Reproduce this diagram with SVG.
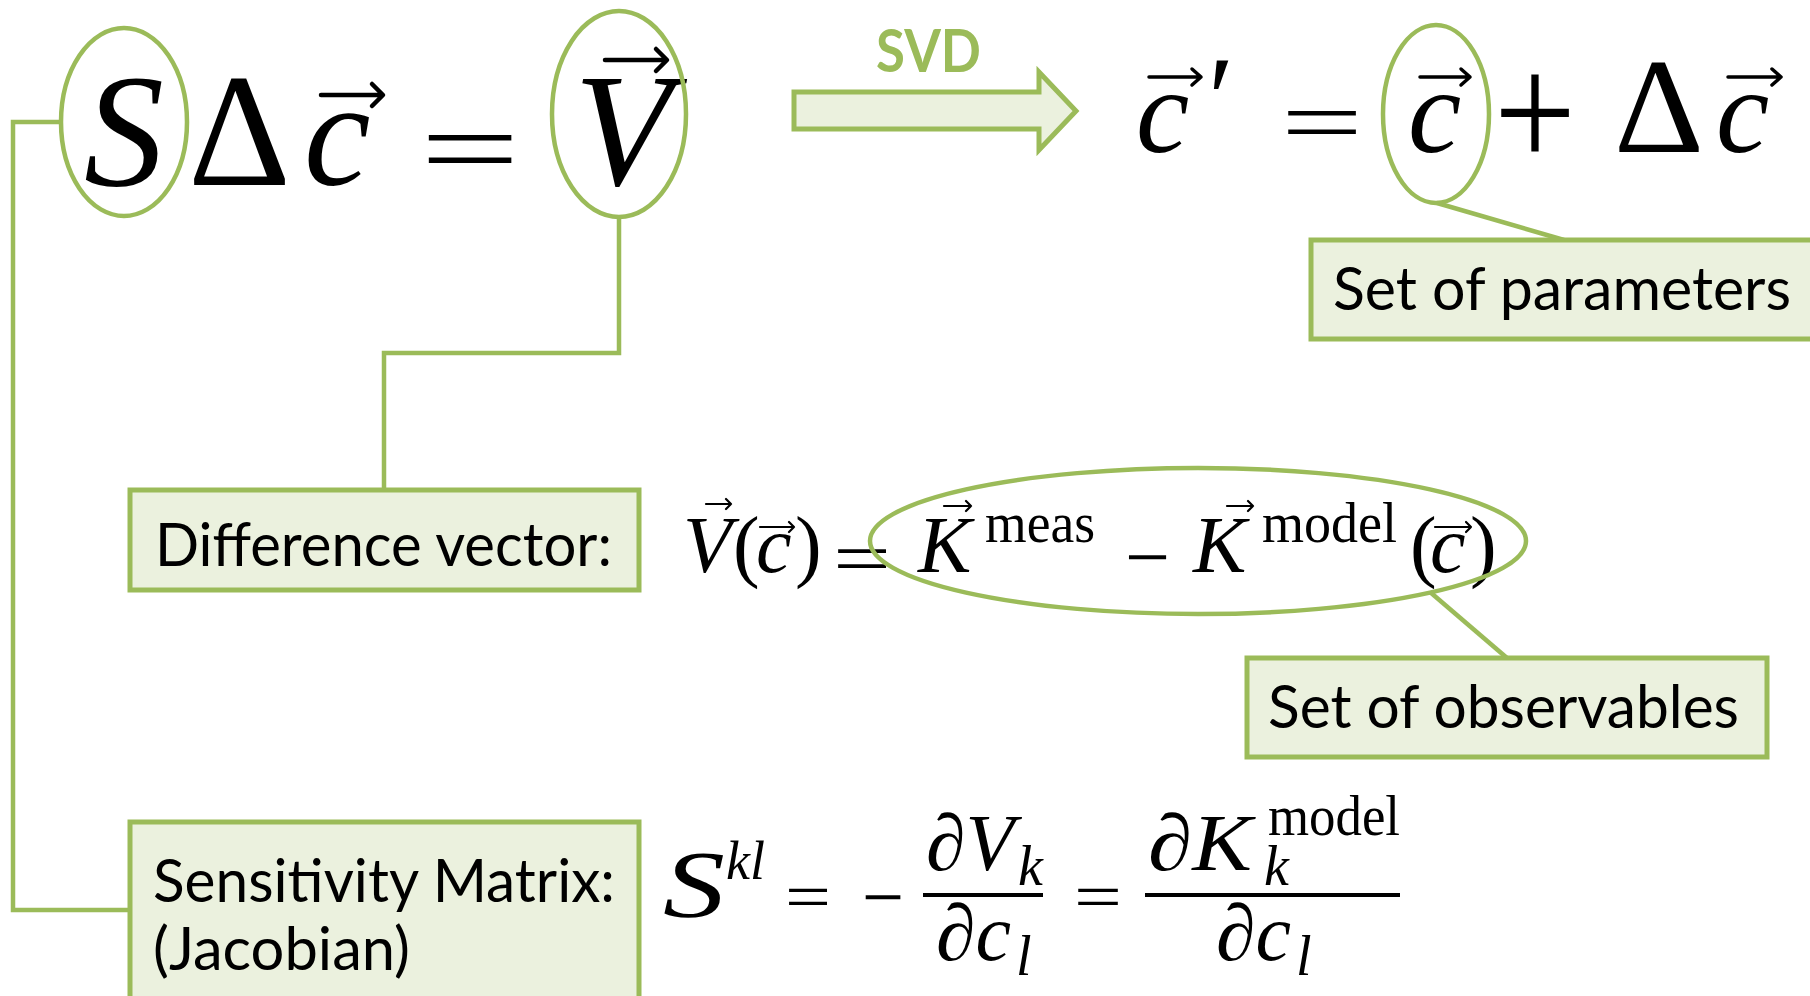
<svg xmlns="http://www.w3.org/2000/svg" width="1810" height="996" viewBox="0 0 1810 996">
<style>
.box{fill:#ebf1de;stroke:#9bbb59;stroke-width:5}
.ring{fill:none;stroke:#9bbb59;stroke-width:4.5}
.conn{fill:none;stroke:#9bbb59;stroke-width:4.5}
.lbl{font-family:Lato,"Open Sans","Liberation Sans",sans-serif;font-size:60px;fill:#000}
.m{font-family:"Liberation Serif","DejaVu Serif",serif;fill:#000}
.i{font-style:italic}
.bar{stroke:#000;stroke-width:4}
.vec{fill:none;stroke:#000;stroke-linecap:round;stroke-linejoin:round}
.vL{stroke-width:4.5}
.vM{stroke-width:3.5}
.vS{stroke-width:2.2}
</style>
<rect width="1810" height="996" fill="#fff"/>

<g id="connectors">
<polyline class="conn" points="61,122 13,122 13,910 130,910"/>
<polyline class="conn" points="619,217 619,353 384,353 384,490"/>
<line class="conn" x1="1437" y1="203" x2="1564" y2="240"/>
<line class="conn" x1="1430" y1="592" x2="1507" y2="658"/>
</g>

<g id="eq-main">
<text class="m i" x="84" y="185" font-size="160">S</text>
<text class="m" x="188" y="185" font-size="160">Δ</text>
<text class="m i" x="304" y="185" font-size="150">c</text>
<path class="vec vL" d="M321,95 H382 M372,84 L383,95 L372,106"/>
<text class="m" x="420" y="186" font-size="112" textLength="100" lengthAdjust="spacingAndGlyphs">=</text>
<text class="m i" x="574" y="185" font-size="160">V</text>
<path class="vec vL" d="M605,60 H666 M656,49 L667,60 L656,71"/>
</g>

<g id="node-S"><ellipse class="ring" cx="124" cy="122" rx="63" ry="94"/></g>
<g id="node-V"><ellipse class="ring" cx="619" cy="114" rx="67" ry="103"/></g>

<g id="node-svd">
<polygon class="box" points="794,92 1039,92 1039,72 1076,111 1039,150 1039,129 794,129"/>
<text x="876" y="72" font-family="Lato,'Open Sans','Liberation Sans',sans-serif" font-weight="bold" font-size="60" fill="#9bbb59" textLength="105" lengthAdjust="spacingAndGlyphs">SVD</text>
</g>

<g id="eq-update">
<text class="m i" x="1136" y="152" font-size="120">c</text>
<path class="vec vM" d="M1149,77 H1201 M1192,69 L1201,77 L1192,85"/>
<text class="m" x="1208" y="140" font-size="120">′</text>
<text class="m" x="1281" y="153" font-size="92" textLength="82" lengthAdjust="spacingAndGlyphs">=</text>
<text class="m i" x="1408" y="152" font-size="120">c</text>
<path class="vec vM" d="M1420,77 H1470 M1461,69 L1470,77 L1461,85"/>
<text class="m" x="1494" y="168" font-size="165" textLength="82" lengthAdjust="spacingAndGlyphs">+</text>
<text class="m" x="1614" y="152" font-size="135" textLength="90" lengthAdjust="spacingAndGlyphs">Δ</text>
<text class="m i" x="1716" y="152" font-size="120">c</text>
<path class="vec vM" d="M1728,77 H1781 M1772,69 L1781,77 L1772,85"/>
</g>

<g id="node-c"><ellipse class="ring" cx="1436" cy="114" rx="53" ry="89"/></g>

<g id="node-params">
<rect class="box" x="1311" y="240" width="520" height="99"/>
<text class="lbl" x="1333" y="310" textLength="458" lengthAdjust="spacingAndGlyphs">Set of parameters</text>
</g>

<g id="node-diff">
<rect class="box" x="130" y="490" width="509" height="100"/>
<text class="lbl" x="155" y="566" textLength="457" lengthAdjust="spacingAndGlyphs">Difference vector:</text>
</g>

<g id="eq-diff">
<text class="m i" x="683" y="572" font-size="80">V</text>
<path class="vec vS" d="M706,504 H731 M726,499 L731,504 L726,509"/>
<text class="m" x="733" y="572" font-size="80">(</text>
<text class="m i" x="756" y="572" font-size="80">c</text>
<path class="vec vS" d="M760,527 H794 M789,522 L794,527 L789,532"/>
<text class="m" x="795" y="572" font-size="80">)</text>
<text class="m" x="833" y="583" font-size="73" textLength="58" lengthAdjust="spacingAndGlyphs">=</text>
<text class="m i" x="918" y="572" font-size="80">K</text>
<path class="vec vS" d="M944,506 H971 M966,501 L971,506 L966,511"/>
<text class="m" x="985" y="542" font-size="56" textLength="110" lengthAdjust="spacingAndGlyphs">meas</text>
<text class="m" x="1125" y="584" font-size="80" textLength="45" lengthAdjust="spacingAndGlyphs">−</text>
<text class="m i" x="1193" y="572" font-size="80">K</text>
<path class="vec vS" d="M1227,506 H1253 M1248,501 L1253,506 L1248,511"/>
<text class="m" x="1262" y="542" font-size="56" textLength="135" lengthAdjust="spacingAndGlyphs">model</text>
<text class="m" x="1410" y="572" font-size="80">(</text>
<text class="m i" x="1430" y="572" font-size="80">c</text>
<path class="vec vS" d="M1435,527 H1471 M1466,522 L1471,527 L1466,532"/>
<text class="m" x="1470" y="572" font-size="80">)</text>
</g>

<g id="node-obs-ring"><ellipse class="ring" cx="1198" cy="541" rx="328" ry="73"/></g>

<g id="node-obs">
<rect class="box" x="1247" y="658" width="520" height="99"/>
<text class="lbl" x="1268" y="728" textLength="471" lengthAdjust="spacingAndGlyphs">Set of observables</text>
</g>

<g id="node-sens">
<rect class="box" x="130" y="822" width="509" height="184"/>
<text class="lbl" x="153" y="902" textLength="462" lengthAdjust="spacingAndGlyphs">Sensitivity Matrix:</text>
<text class="lbl" x="153" y="970" textLength="257" lengthAdjust="spacingAndGlyphs">(Jacobian)</text>
</g>

<g id="eq-sens">
<text class="m i" x="663" y="917" font-size="95" textLength="62" lengthAdjust="spacingAndGlyphs">S</text>
<text class="m i" x="726" y="879" font-size="54">kl</text>
<text class="m" x="785" y="919" font-size="66" textLength="46" lengthAdjust="spacingAndGlyphs">=</text>
<text class="m" x="862" y="924" font-size="80" textLength="42" lengthAdjust="spacingAndGlyphs">−</text>
<line class="bar" x1="923" y1="895" x2="1043" y2="895"/>
<text class="m i" x="926" y="870" font-size="80">∂V</text>
<text class="m i" x="1018" y="885" font-size="56">k</text>
<text class="m i" x="936" y="960" font-size="80">∂c</text>
<text class="m i" x="1016" y="975" font-size="56">l</text>
<text class="m" x="1074" y="919" font-size="66" textLength="48" lengthAdjust="spacingAndGlyphs">=</text>
<line class="bar" x1="1145" y1="895" x2="1400" y2="895"/>
<text class="m i" x="1148" y="870" font-size="80" textLength="104" lengthAdjust="spacingAndGlyphs">∂K</text>
<text class="m" x="1268" y="835" font-size="56" textLength="132" lengthAdjust="spacingAndGlyphs">model</text>
<text class="m i" x="1264" y="885" font-size="56">k</text>
<text class="m i" x="1216" y="960" font-size="80">∂c</text>
<text class="m i" x="1296" y="975" font-size="56">l</text>
</g>
</svg>
